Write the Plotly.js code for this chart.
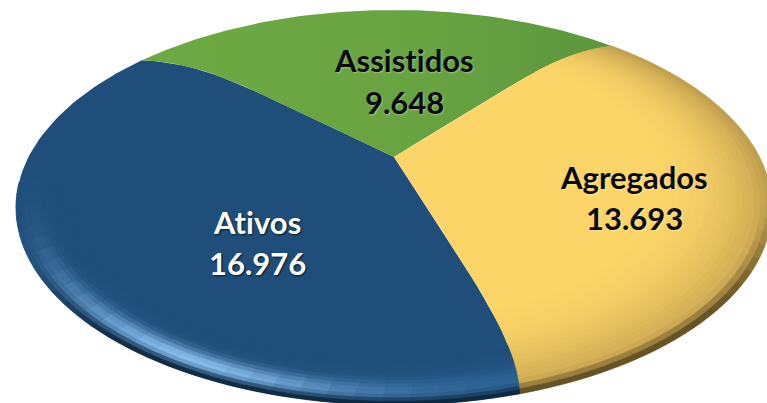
<!DOCTYPE html>
<html><head><meta charset="utf-8">
<script src="https://cdn.plot.ly/plotly-3.0.1.min.js"></script>
<style>html,body{margin:0;padding:0;background:#fff}#c{width:767px;height:403px}svg text{font-variant-ligatures:none;font-feature-settings:"liga" 0}</style>
</head><body><div id="c"></div>
<script>
// Data, in clockwise drawing order
const categories = ['Ativos', 'Assistidos', 'Agregados'];
const values = [16976, 9648, 13693];
const valueLabels = ['16.976', '9.648', '13.693'];
const labelCenterX = [257, 404, 634];
const labelNameY = [222, 60, 177];
const labelValueY = [263, 102, 218];
const labelColors = ['#ffffff', '#0a0a0a', '#0a0a0a'];
const labelShadows = ['1px 1px 2px rgba(0,0,0,0.7)', '1px 1px 2px rgba(255,255,255,0.35)', '1px 1px 2px rgba(255,255,255,0.35)'];

// Perspective disc
const X0 = 394, Y0 = 157, A = 365.5, B = 184.6, P = 0.2557;
const START = 288.2;
const rimCurl = [-3.1, 6.2, -5.2]; // rim bend of each boundary, degrees

function project(r, deg) {
  const t = deg * Math.PI / 180, u = r * Math.cos(t), v = r * Math.sin(t), w = 1 + P * v;
  return [X0 + A * u / w, Y0 - B * v / w];
}
const total = values.reduce((a, b) => a + b, 0);
const edges = [START];
values.forEach((v, i) => edges.push(edges[i] - v / total * 360));
function edgeAngle(i, r) { return edges[i] + rimCurl[i % 3] * Math.pow(r, 6); }
function angleAt(k, s, r) { const a = edgeAngle(k, r), b = edgeAngle(k + 1, r); return a + (b - a) * s; }

function slicePolygon(k) {
  const xs = [], ys = [];
  const add = (r, d) => { const p = project(r, d); xs.push(p[0]); ys.push(p[1]); };
  for (let n = 0; n <= 24; n++) add(n / 24, edgeAngle(k, n / 24));
  for (let n = 1; n < 90; n++) add(1, angleAt(k, n / 90, 1));
  for (let n = 24; n >= 0; n--) add(n / 24, edgeAngle(k + 1, n / 24));
  return [xs, ys];
}
const hex = h => [1, 3, 5].map(i => parseInt(h.substr(i, 2), 16));
const mix = (c, d, a) => { a = Math.max(0, Math.min(1, a)); return c.map((x, i) => x + (d[i] - x) * a); };
const css = c => 'rgb(' + c.map(Math.round).join(',') + ')';
const clamp = x => Math.max(0, Math.min(1, x));
const smooth = (a, b, x) => { const t = clamp((x - a) / (b - a)); return t * t * (3 - 2 * t); };

const fills = [
  { type: 'horizontal', colorscale: [[0, '#1f4e7a'], [1, '#1f4e7a']] },
  { type: 'horizontal', colorscale: [[0, '#6eaa43'], [0.6, '#68a341'], [1, '#5c963e']] },
  { type: 'horizontal', colorscale: [[0, '#fcd568'], [1, '#fcd568']] }
];

// bevel colour per slice; null where the cell keeps the flat fill
const shaders = [
  { rMin: 0.85, from: 0, to: 0.78, rings: 14, color(r, d) {
      const t = (1 - r) / 0.15, sn = Math.sin(d * Math.PI / 180);
      const dark = smooth(-0.45, -0.85, sn);
      const g = Math.exp(-Math.pow((d - 243) / 26, 2));
      const weak = smooth(-0.5, -0.85, sn) * (1 - g);
      if (g < 0.01 && weak < 0.01 && dark < 0.01) return null;
      let c = hex('#1f4e7a');
      c = mix(c, hex('#8cc2f2'), g * 0.95 * Math.exp(-Math.pow((t - 0.26) / 0.2, 2)));
      c = mix(c, hex('#2f6aa0'), weak * 0.6 * Math.exp(-Math.pow((t - 0.3) / 0.3, 2)));
      c = mix(c, hex('#081c30'), dark * Math.pow(clamp(1 - t / 0.2), 1.1));
      return c;
    } },
  null,
  { rMin: 0.68, from: 0, to: 1, rings: 22, color(r, d) {
      const t = (1 - r) / 0.32, sn = Math.sin(d * Math.PI / 180);
      let c = hex('#fcd568');
      c = mix(c, hex('#b8974a'), 0.85 * Math.pow(1 - t, 2.2));
      const low = clamp(0.05 + 0.95 * smooth(-0.2, -0.75, sn));
      c = mix(c, hex('#4a3c1a'), low * Math.pow(clamp(1 - t / 0.12), 1.2));
      return c;
    } }
];

const traces = [];
const annotations = [];
categories.forEach((name, k) => {
  const [xs, ys] = slicePolygon(k);
  traces.push({ type: 'scatter', mode: 'lines', x: xs, y: ys, fill: 'toself', name,
    fillgradient: fills[k], line: { width: 0 }, text: valueLabels[k], hoverinfo: 'name+text', showlegend: false });
});
categories.forEach((name, k) => {
  const sh = shaders[k];
  if (!sh) return;
  const rings = sh.rings, span = Math.abs(edges[k + 1] - edges[k]);
  const cells = Math.round(span * (sh.to - sh.from) / 3.6);
  for (let i = 0; i < rings; i++) {
    const r1 = sh.rMin + (1 - sh.rMin) * i / rings, r2 = sh.rMin + (1 - sh.rMin) * (i + 1) / rings;
    for (let j = 0; j < cells; j++) {
      const s1 = sh.from + (sh.to - sh.from) * j / cells, s2 = sh.from + (sh.to - sh.from) * (j + 1) / cells;
      const rgb = sh.color((r1 + r2) / 2, angleAt(k, (s1 + s2) / 2, 1));
      if (!rgb) continue;
      const pts = [[r1, s1], [r2, s1], [r2, (s1 + s2) / 2], [r2, s2], [r1, s2], [r1, (s1 + s2) / 2], [r1, s1]]
        .map(q => project(q[0], angleAt(k, q[1], q[0])));
      const col = css(rgb);
      traces.push({ type: 'scatter', mode: 'lines', x: pts.map(p => p[0]), y: pts.map(p => p[1]),
        fill: 'toself', fillcolor: col, line: { color: col, width: 0.7 }, hoverinfo: 'skip', showlegend: false });
    }
  }
});
categories.forEach((name, k) => {
  const font = { family: 'Lato, "Open Sans", sans-serif', size: 31, weight: 700, color: labelColors[k], shadow: labelShadows[k] };
  annotations.push({ x: labelCenterX[k], y: labelNameY[k], xref: 'x', yref: 'y', text: name, showarrow: false, font });
  annotations.push({ x: labelCenterX[k], y: labelValueY[k], xref: 'x', yref: 'y', text: valueLabels[k], showarrow: false, font });
});

Plotly.newPlot('c', traces, {
  width: 767, height: 403, margin: { l: 0, r: 0, t: 0, b: 0 },
  paper_bgcolor: '#fff', plot_bgcolor: '#fff', showlegend: false,
  xaxis: { range: [0, 767], visible: false, fixedrange: true },
  yaxis: { range: [403, 0], visible: false, fixedrange: true },
  annotations
}, { displayModeBar: false, staticPlot: true });
</script></body></html>
